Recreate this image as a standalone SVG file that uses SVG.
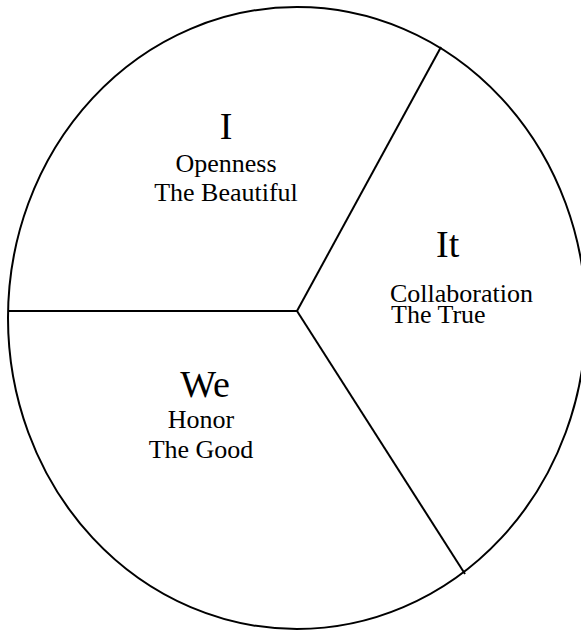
<svg xmlns="http://www.w3.org/2000/svg" width="581" height="631" viewBox="0 0 581 631">
<style>
.ln{fill:none;stroke:#000;stroke-width:2}
.t{font-family:"Liberation Serif","Times New Roman",serif;fill:#000}
.big{font-size:38px}
.sm{font-size:26px}
</style>
<rect width="581" height="631" fill="#fff"/>
<g id="connectors">
<ellipse class="ln" cx="297" cy="318" rx="289" ry="311"/>
<line class="ln" x1="297" y1="311" x2="9" y2="311"/>
<line class="ln" x1="297" y1="311" x2="441" y2="47"/>
<line class="ln" x1="297" y1="311" x2="465" y2="574"/>
</g>
<g id="node-I">
<text class="t big" x="226" y="139" text-anchor="middle">I</text>
<text class="t sm" x="226" y="172" text-anchor="middle">Openness</text>
<text class="t sm" x="226" y="201" text-anchor="middle">The Beautiful</text>
</g>
<g id="node-It">
<text class="t big" x="436" y="257">It</text>
<text class="t sm" x="390" y="302">Collaboration</text>
<text class="t sm" x="391" y="323">The True</text>
</g>
<g id="node-We">
<text class="t big" x="205" y="397" text-anchor="middle">We</text>
<text class="t sm" x="201" y="428" text-anchor="middle">Honor</text>
<text class="t sm" x="201" y="458" text-anchor="middle">The Good</text>
</g>
</svg>
